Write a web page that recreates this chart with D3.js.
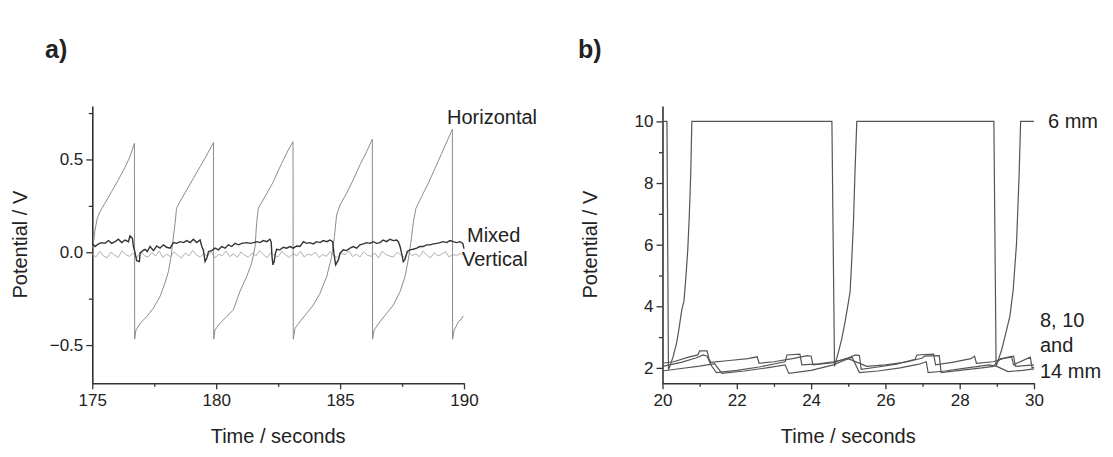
<!DOCTYPE html>
<html><head><meta charset="utf-8">
<script src="https://cdn.jsdelivr.net/npm/d3@7"></script>
<style>
html,body{margin:0;padding:0;background:#fff;}
svg{display:block;}
text{font-family:"Liberation Sans",Arial,sans-serif;fill:#222;}
</style></head>
<body>
<svg id="chart" width="1113" height="457"></svg>
<script>
// ---------- Panel a data ----------
const aXTicks = [175, 180, 185, 190];
const aYTicks = [-0.5, 0.0, 0.5];
const horizontal = [
[175.02,0.02],[175.11,0.12],[175.20,0.183],[175.31,0.219],[175.51,0.264],[175.78,0.327],[176.05,0.39],[176.32,0.458],[176.52,0.515],[176.70,0.587],
[176.71,-0.468],[176.76,-0.419],[176.93,-0.383],[177.19,-0.347],[177.46,-0.302],[177.73,-0.239],[177.93,-0.167],[178.07,-0.105],[178.18,-0.024],[178.24,0.048],[178.34,0.156],[178.40,0.237],[178.54,0.273],[178.81,0.336],[179.08,0.399],[179.35,0.461],[179.62,0.524],[179.89,0.591],
[179.90,-0.468],[179.95,-0.419],[180.15,-0.383],[180.42,-0.347],[180.69,-0.311],[180.96,-0.21],[181.23,-0.131],[181.43,-0.059],[181.57,0.03],[181.63,0.156],[181.70,0.237],[181.97,0.30],[182.31,0.381],[182.64,0.479],[182.91,0.551],[183.10,0.596],
[183.11,-0.468],[183.18,-0.41],[183.38,-0.374],[183.65,-0.329],[183.92,-0.284],[184.19,-0.221],[184.46,-0.131],[184.66,-0.023],[184.77,0.084],[184.86,0.201],[185.00,0.255],[185.26,0.318],[185.53,0.39],[185.80,0.47],[186.07,0.542],[186.30,0.609],
[186.31,-0.468],[186.37,-0.419],[186.61,-0.374],[186.88,-0.329],[187.15,-0.284],[187.42,-0.212],[187.62,-0.131],[187.75,-0.041],[187.85,0.048],[187.95,0.156],[188.06,0.237],[188.29,0.30],[188.56,0.372],[188.83,0.452],[189.10,0.533],[189.37,0.614],[189.53,0.663],
[189.54,-0.468],[189.60,-0.419],[189.68,-0.40],[189.77,-0.374],[189.87,-0.365],[189.97,-0.343]
];
const mixed = [
[175.00,0.048],[175.11,0.031],[175.25,0.045],[175.38,0.052],[175.52,0.048],[175.65,0.063],[175.78,0.048],[175.92,0.057],[176.05,0.070],[176.19,0.052],[176.32,0.066],[176.46,0.057],[176.52,0.088],[176.62,0.075],[176.66,0.031],[176.73,-0.005],[176.79,-0.045],[176.90,-0.050],[176.93,-0.005],
[177.04,0.009],[177.13,0.016],[177.22,0.004],[177.33,0.031],[177.47,0.009],[177.60,0.034],[177.73,0.022],[177.87,0.040],[178.00,0.027],[178.14,0.022],[178.27,0.052],[178.41,0.048],[178.54,0.057],[178.68,0.052],[178.81,0.063],[178.95,0.052],[179.08,0.070],[179.21,0.052],[179.35,0.066],[179.42,0.031],[179.48,0.013],[179.55,-0.050],[179.62,-0.032],[179.69,0.004],
[179.82,0.009],[179.95,0.022],[180.09,0.013],[180.22,0.031],[180.36,0.022],[180.49,0.040],[180.63,0.031],[180.76,0.048],[180.90,0.040],[181.03,0.048],[181.23,0.052],[181.37,0.048],[181.50,0.052],[181.64,0.057],[181.77,0.052],[181.90,0.063],[182.04,0.057],[182.17,0.070],[182.22,0.055],[182.25,-0.02],[182.29,-0.068],[182.34,-0.05],[182.39,-0.005],
[182.44,0.016],[182.57,0.013],[182.71,0.027],[182.84,0.022],[182.98,0.031],[183.11,0.022],[183.25,0.034],[183.38,0.031],[183.52,0.057],[183.65,0.048],[183.78,0.052],[183.92,0.045],[184.05,0.057],[184.19,0.052],[184.32,0.063],[184.46,0.057],[184.59,0.066],[184.70,0.057],[184.75,-0.005],[184.82,-0.068],[184.93,-0.041],[185.00,-0.005],
[185.13,0.013],[185.26,0.009],[185.40,0.022],[185.53,0.031],[185.67,0.022],[185.80,0.040],[185.94,0.045],[186.07,0.052],[186.21,0.048],[186.34,0.057],[186.47,0.048],[186.61,0.052],[186.74,0.066],[186.88,0.057],[187.01,0.070],[187.15,0.063],[187.28,0.066],[187.35,0.057],[187.42,0.031],[187.48,-0.005],[187.55,-0.050],[187.62,-0.038],[187.71,0.004],
[187.82,0.013],[187.95,0.016],[188.09,0.022],[188.22,0.031],[188.36,0.031],[188.49,0.040],[188.63,0.040],[188.76,0.045],[188.90,0.048],[189.03,0.052],[189.16,0.057],[189.30,0.052],[189.43,0.063],[189.57,0.057],[189.70,0.052],[189.84,0.057],[189.95,0.048],[190.00,0.02]
];
const verticalStart = 175, verticalStep = 0.15;
const vertical = [
-0.010,-0.025,0.005,-0.020,-0.030,0.000,-0.015,-0.028,0.008,-0.012,
-0.022,-0.005,-0.030,0.004,-0.018,-0.026,-0.002,-0.020,0.006,-0.028,
-0.010,-0.024,0.002,-0.016,-0.032,-0.004,-0.020,0.010,-0.014,-0.026,
-0.006,-0.022,0.003,-0.030,-0.012,-0.018,0.006,-0.024,-0.008,-0.028,
0.002,-0.016,-0.026,-0.004,-0.020,0.008,-0.012,-0.030,-0.002,-0.018,
-0.024,0.004,-0.014,-0.028,-0.006,-0.020,0.006,-0.026,-0.010,-0.016,
0.000,-0.028,-0.012,-0.022,0.004,-0.018,-0.030,-0.006,-0.014,0.008,
-0.024,-0.010,-0.026,0.002,-0.016,-0.022,-0.004,-0.030,0.006,-0.012,
-0.020,-0.026,0.000,-0.014,-0.028,0.004,-0.018,-0.008,-0.024,0.006,
-0.016,-0.030,-0.002,-0.020,-0.010,0.004,-0.026,-0.012,-0.018,-0.006,
-0.014];

// ---------- Panel b data ----------
const bXTicks = [20, 22, 24, 26, 28, 30];
const bYTicks = [2, 4, 6, 8, 10];
const mm6 = [
[20.0,10],[20.12,10],[20.16,1.95],[20.20,2.05],[20.29,2.38],[20.38,2.81],[20.44,3.24],[20.52,3.89],[20.58,4.19],[20.63,4.96],[20.68,5.83],[20.72,6.9],[20.76,8.3],[20.79,10],
[24.56,10],[24.63,2.05],[24.73,2.49],[24.82,2.92],[24.91,3.46],[25.0,4.1],[25.05,4.48],[25.09,5.4],[25.14,6.7],[25.18,8.3],[25.23,10],
[28.92,10],[28.98,2.05],[29.13,2.59],[29.22,3.02],[29.35,3.67],[29.44,4.53],[29.53,6.05],[29.60,8.3],[29.64,10],[30.0,10]
];
const mm8 = [
[20.0,2.15],[20.3,2.2],[20.7,2.35],[20.95,2.42],[21.0,2.55],[21.2,2.55],[21.25,2.3],[21.3,2.18],[21.8,2.24],[22.3,2.3],[22.55,2.36],[22.6,2.15],[23.0,2.2],[23.5,2.3],[23.9,2.4],[24.0,2.38],[24.05,2.1],[24.6,2.17],
[25.0,2.33],[25.2,2.42],[25.3,2.4],[25.35,1.95],[25.8,2.03],[26.3,2.12],[26.8,2.28],[26.85,2.42],[27.3,2.45],[27.35,2.1],[27.8,2.18],[28.3,2.3],[28.4,2.38],[28.45,2.15],[28.9,2.2],[29.3,2.35],[29.45,2.38],[29.5,2.05],[30.0,2.1]
];
const mm10 = [
[20.0,2.05],[20.5,2.18],[20.9,2.32],[21.1,2.42],[21.2,2.38],[21.3,2.1],[21.45,1.85],[22.0,1.92],[22.6,2.03],[23.1,2.15],[23.3,2.2],[23.35,2.42],[23.7,2.45],[23.75,2.1],[24.2,2.13],[24.6,2.2],
[25.0,2.3],[25.5,2.05],[26.0,2.1],[26.6,2.2],[27.0,2.32],[27.05,2.38],[27.45,2.4],[27.5,1.85],[28.0,1.92],[28.6,2.0],[28.9,2.05],[29.1,2.3],[29.4,2.35],[29.45,2.1],[29.9,2.35],[29.95,2.0],[30.0,2.02]
];
const mm14 = [
[20.0,1.9],[20.5,1.98],[21.0,2.06],[21.4,2.14],[21.6,1.82],[22.2,1.9],[22.8,2.0],[23.3,2.1],[23.4,1.82],[24.0,1.92],[24.6,2.1],
[24.8,2.2],[25.1,2.35],[25.3,1.85],[25.8,1.9],[26.4,2.0],[26.9,2.12],[27.1,2.2],[27.15,1.85],[27.6,1.9],[28.2,2.0],[28.8,2.1],[29.0,2.05],[29.3,1.88],[29.7,1.92],[30.0,1.97]
];

const svg = d3.select("#chart");

function panel(opts){
  const {x0,x1,y0,y1,xDom,yDom,xTicks,yTicks,xMinor,yMinor,yFmt,labelX,labelYx,tag,tagX} = opts;
  const x = d3.scaleLinear().domain(xDom).range([x0,x1]);
  const y = d3.scaleLinear().domain(yDom).range([y1,y0]);
  const g = svg.append("g");
  // minor ticks
  g.append("g").attr("transform",`translate(0,${y1})`)
    .call(d3.axisBottom(x).tickValues(xMinor).tickSize(3.5).tickSizeOuter(0).tickFormat(""))
    .call(s=>s.select(".domain").remove());
  g.append("g").attr("transform",`translate(${x0},0)`)
    .call(d3.axisLeft(y).tickValues(yMinor).tickSize(3.5).tickSizeOuter(0).tickFormat(""))
    .call(s=>s.select(".domain").remove());
  const gx = g.append("g").attr("transform",`translate(0,${y1})`)
    .call(d3.axisBottom(x).tickValues(xTicks).tickSize(6).tickSizeOuter(0).tickPadding(5));
  const gy = g.append("g").attr("transform",`translate(${x0},0)`)
    .call(d3.axisLeft(y).tickValues(yTicks).tickSize(6).tickSizeOuter(0).tickPadding(3).tickFormat(yFmt));
  g.selectAll(".tick line").attr("stroke","#333").attr("stroke-width",1.3);
  g.selectAll(".domain").attr("stroke","#333").attr("stroke-width",1.6);
  g.selectAll(".tick text").attr("font-size",17).attr("fill","#222")
    .attr("font-family","Liberation Sans, Arial, sans-serif");
  // axis titles
  g.append("text").attr("x",(x0+x1)/2).attr("y",443).attr("text-anchor","middle")
    .attr("font-size",20).text("Time / seconds");
  g.append("text").attr("transform",`translate(${labelYx},${(y0+y1)/2}) rotate(-90)`)
    .attr("text-anchor","middle").attr("dy","0.35em").attr("font-size",20).text("Potential / V");
  g.append("text").attr("x",tagX).attr("y",58).attr("font-size",25).attr("font-weight","bold")
    .attr("font-family","Open Sans, DejaVu Sans, sans-serif").attr("fill","#1a1a1a").text(tag);
  return {x,y,g};
}

// Panel a
const A = panel({x0:92.3,x1:464,y0:106,y1:383.3,xDom:[175,190],yDom:[-0.706,0.788],
  xTicks:aXTicks,yTicks:aYTicks,xMinor:[177.5,182.5,187.5],yMinor:[-0.25,0.25,0.75],
  yFmt:d3.format(".1f"),labelYx:20,tag:"a)",tagX:45});
const lineA = d3.line().x(d=>A.x(d[0])).y(d=>A.y(d[1]));
A.g.append("path").datum(vertical.map((v,i)=>[verticalStart+i*verticalStep,v]))
  .attr("d",lineA).attr("fill","none").attr("stroke","#b0b0b0").attr("stroke-width",1);
A.g.append("path").datum(horizontal).attr("d",lineA).attr("fill","none")
  .attr("stroke","#8c8c8c").attr("stroke-width",1);
A.g.append("path").datum(mixed).attr("d",lineA).attr("fill","none")
  .attr("stroke","#333").attr("stroke-width",1.4);
A.g.append("text").attr("x",447).attr("y",124).attr("font-size",20).text("Horizontal");
A.g.append("text").attr("x",467).attr("y",242).attr("font-size",20).text("Mixed");
A.g.append("text").attr("x",462).attr("y",266).attr("font-size",20).text("Vertical");

// Panel b
const B = panel({x0:662.5,x1:1034,y0:106,y1:383.3,xDom:[20,30],yDom:[1.5,10.5],
  xTicks:bXTicks,yTicks:bYTicks,xMinor:[21,23,25,27,29],yMinor:[3,5,7,9],
  yFmt:d3.format("d"),labelYx:590,tag:"b)",tagX:578});
const lineB = d3.line().x(d=>B.x(d[0])).y(d=>B.y(d[1]));
[mm14,mm10,mm8,mm6].forEach(s=>{
  B.g.append("path").datum(s).attr("d",lineB).attr("fill","none")
    .attr("stroke","#555").attr("stroke-width",1.2);
});
B.g.append("text").attr("x",1048).attr("y",128).attr("font-size",20).text("6 mm");
B.g.append("text").attr("x",1040).attr("y",327).attr("font-size",20).text("8, 10");
B.g.append("text").attr("x",1040).attr("y",352).attr("font-size",20).text("and");
B.g.append("text").attr("x",1040).attr("y",378).attr("font-size",20).text("14 mm");
</script>
</body></html>
